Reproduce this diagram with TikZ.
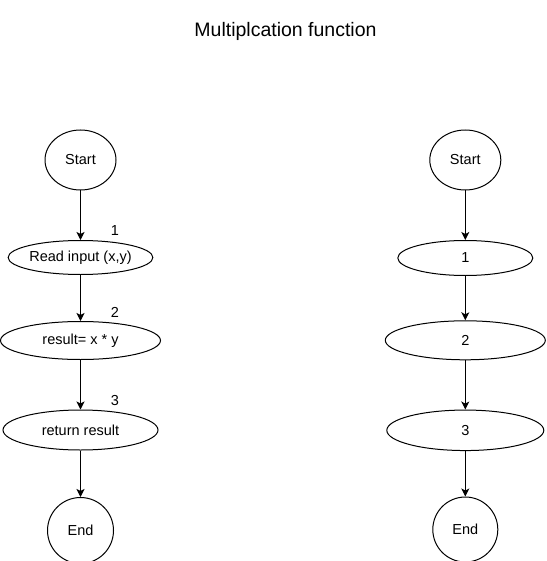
\documentclass[tikz,border=0pt]{standalone}
\usepackage{fontspec}
\setmainfont{Liberation Sans}
\usetikzlibrary{shapes.geometric,arrows.meta}
\begin{document}
\begin{tikzpicture}[x=1pt,y=-1pt,
  shapebox/.style={draw,ellipse,line width=1pt,inner sep=0pt,font=\fontsize{14.5}{17}\selectfont},
  flow/.style={draw,line width=1pt,-{Stealth[length=8pt,width=8pt,inset=2pt]}},
  steplabel/.style={font=\fontsize{14.5}{17}\selectfont,inner sep=0pt}]
\useasboundingbox[fill=white] (0,0) rectangle (546,561);
\node[font=\fontsize{19.5}{22}\selectfont,inner sep=0pt] (title) at (285.5,31) {Multiplcation function};
% left column
\node[shapebox,minimum width=71pt,minimum height=60pt] (s1) at (80.5,160) {Start};
\node[shapebox,minimum width=133pt,minimum height=34pt] (r1) at (80.5,257.5) {Read input (x,y)};
\node[shapebox,minimum width=160pt,minimum height=38pt] (r2) at (80.5,340.5) {result= x * y};
\node[shapebox,minimum width=155pt,minimum height=40pt] (r3) at (80.5,430) {return result};
\node[shapebox,minimum width=66pt,minimum height=66pt] (e1) at (80.5,530.5) {End};
\node[steplabel] (l1) at (115,231) {1};
\node[steplabel] (l2) at (115,312.5) {2};
\node[steplabel] (l3) at (115,401) {3};
\draw[flow] (s1) -- (r1);
\draw[flow] (r1) -- (r2);
\draw[flow] (r2) -- (r3);
\draw[flow] (r3) -- (e1);
% right column
\node[shapebox,minimum width=71pt,minimum height=60pt] (s2) at (465.3,160) {Start};
\node[shapebox,minimum width=135pt,minimum height=35pt] (n1) at (465.3,258) {1};
\node[shapebox,minimum width=160pt,minimum height=39pt] (n2) at (465.3,340.3) {2};
\node[shapebox,minimum width=157pt,minimum height=40.5pt] (n3) at (465.3,430.3) {3};
\node[shapebox,minimum width=65pt,minimum height=65pt] (e2) at (465.3,529.5) {End};
\draw[flow] (s2) -- (n1);
\draw[flow] (n1) -- (n2);
\draw[flow] (n2) -- (n3);
\draw[flow] (n3) -- (e2);
\end{tikzpicture}
\end{document}
